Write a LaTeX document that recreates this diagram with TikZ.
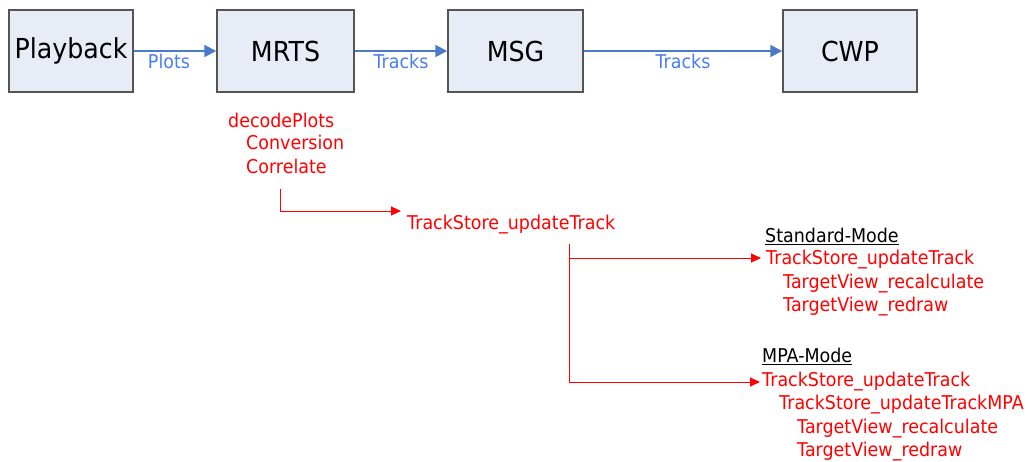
\documentclass[tikz,border=0pt]{standalone}
\usepackage{fontspec}
\setmainfont[FakeStretch=0.92]{DejaVu Sans}
\usetikzlibrary{arrows.meta,calc}
\definecolor{boxfill}{HTML}{E7ECF6}
\definecolor{boxline}{HTML}{555555}
\definecolor{flowblue}{HTML}{4A7BC8}
\definecolor{labelblue}{HTML}{4A7DF0}
\tikzset{
  blk/.style={draw=boxline, line width=1.5pt, fill=boxfill, minimum height=82pt, inner sep=0pt, font=\fontsize{27.5}{30}\selectfont},
  flow/.style={draw=flowblue, line width=2pt, -{Triangle[length=12pt,width=12pt]}},
  flowlbl/.style={text=labelblue, font=\fontsize{19}{22}\selectfont, anchor=north, inner sep=1pt, yshift=-1pt},
  call/.style={text=red, anchor=west, inner sep=0pt, yshift=-2pt, font=\fontsize{19}{22}\selectfont},
  modelbl/.style={anchor=west, inner sep=0pt, font=\fontsize{19}{22}\selectfont},
  callarr/.style={draw=red, line width=1pt, -{Triangle[length=10pt,width=9pt]}}
}
\begin{document}
\begin{tikzpicture}[x=1pt,y=-1pt]
    \useasboundingbox (0,0) rectangle (1034,461);
    % processes
    \node[blk, minimum width=124pt] (play) at (71,51) {Playback};
    \node[blk, minimum width=137pt] (mrts) at (285.5,51) {MRTS};
    \node[blk, minimum width=135pt] (msg) at (515.5,51) {MSG};
    \node[blk, minimum width=134pt] (cwp) at (850,51) {CWP};
    \draw[flow] (play.east) -- (mrts.west) node[flowlbl, midway, xshift=-6pt] {Plots};
    \draw[flow] (mrts.east) -- (msg.west) node[flowlbl, midway] {Tracks};
    \draw[flow] (msg.east) -- (cwp.west) node[flowlbl, midway] {Tracks};
    % call chain in MRTS
    \node[call] (decode) at (228,118) {decodePlots};
    \node[call] (conv) at (246,140) {Conversion};
    \node[call] (corr) at (246,164) {Correlate};
    \coordinate (corrout) at (280,189);
    \node[call] (upd) at (407,223) {TrackStore\_updateTrack};
    \draw[callarr] (corrout) |- ($(upd.west)+(-6,-14)$);
    % modes
    \node[modelbl] (stdhead) at (765,236) {\underline{Standard-Mode}};
    \node[call] (std1) at (766,258) {TrackStore\_updateTrack};
    \node[call] (std2) at (783,282) {TargetView\_recalculate};
    \node[call] (std3) at (783,305) {TargetView\_redraw};
    \node[modelbl] (mpahead) at (762,356) {\underline{MPA-Mode}};
    \node[call] (mpa1) at (762,380) {TrackStore\_updateTrack};
    \node[call] (mpa2) at (779,403) {TrackStore\_updateTrackMPA};
    \node[call] (mpa3) at (797,427) {TargetView\_recalculate};
    \node[call] (mpa4) at (797,450) {TargetView\_redraw};
    \coordinate (updout) at (569,244);
    \draw[callarr] (updout) |- ($(std1.west)+(-5,-2)$);
    \draw[callarr] (updout) |- ($(mpa1.west)+(-2,0)$);
\end{tikzpicture}
\end{document}
